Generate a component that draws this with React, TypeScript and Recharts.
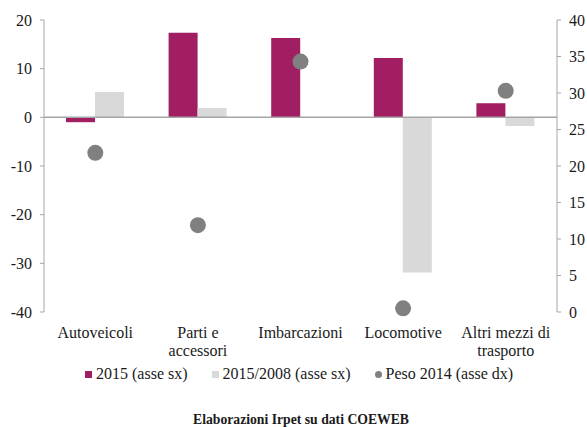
import React from "react";
import {
  ComposedChart,
  Bar,
  Scatter,
  XAxis,
  YAxis,
  ReferenceLine,
  Legend,
} from "recharts";

const categories = ["Autoveicoli", "Parti e accessori", "Imbarcazioni", "Locomotive", "Altri mezzi di trasporto"];
const tickLabelLines = [["Autoveicoli"], ["Parti e", "accessori"], ["Imbarcazioni"], ["Locomotive"], ["Altri mezzi di", "trasporto"]];
const series2015 = [-1.0, 17.4, 16.3, 12.2, 2.9];
const series2015vs2008 = [5.2, 1.9, 0.1, -31.9, -1.8];
const peso2014 = [21.8, 11.9, 34.3, 0.5, 30.3];
const leftTicks = [-40, -30, -20, -10, 0, 10, 20];
const rightTicks = [0, 5, 10, 15, 20, 25, 30, 35, 40];
const legendLabels = ["2015 (asse sx)", "2015/2008 (asse sx)", "Peso 2014 (asse dx)"];

const MAGENTA = "#A11E63";
const LIGHT = "#D9D9D9";
const DOT = "#808080";
const AXIS = "#A6A6A6";
const FONT = "'Liberation Serif', 'Times New Roman', serif";

const data = categories.map((c, i) => ({
  name: c,
  v2015: series2015[i],
  v2008: series2015vs2008[i],
  peso: peso2014[i],
}));

const CategoryTick = (props: any) => {
  const { x, y, index } = props;
  const lines = tickLabelLines[index] || [String(props.payload?.value)];
  return (
    <g>
      {lines.map((l: string, k: number) => (
        <text
          key={k}
          x={x}
          y={y + 25.5 + k * 18.5}
          textAnchor="middle"
          fill="#1a1a1a"
          fontFamily={FONT}
          fontSize={16}
        >
          {l}
        </text>
      ))}
    </g>
  );
};

const LegendContent = () => {
  const markers = [
    <span style={{ display: "inline-block", width: 7, height: 7, background: MAGENTA }} />,
    <span style={{ display: "inline-block", width: 7, height: 7, background: LIGHT }} />,
    <span style={{ display: "inline-block", width: 7, height: 7, borderRadius: "50%", background: DOT }} />,
  ];
  return (
    <div
      style={{
        display: "flex",
        alignItems: "center",
        paddingLeft: 85,
        fontFamily: FONT,
        fontSize: 16,
        color: "#1a1a1a",
        gap: 24,
        lineHeight: "20px",
      }}
    >
      {legendLabels.map((l, i) => (
        <div key={i} style={{ display: "flex", alignItems: "center", gap: 4 }}>
          {markers[i]}
          <span style={{ whiteSpace: "nowrap" }}>{l}</span>
        </div>
      ))}
    </div>
  );
};

export default function App() {
  return (
    <div style={{ position: "absolute", left: 0, top: 0, width: 587, height: 427, background: "#fff" }}>
      <ComposedChart
        width={587}
        height={427}
        data={data}
        margin={{ top: 20, right: 0, left: 0, bottom: 45 }}
        barGap={0}
        barSize={29}
      >
        <XAxis
          dataKey="name"
          xAxisId={0}
          axisLine={false}
          tickLine={false}
          tickSize={0}
          tickMargin={0}
          height={50}
          interval={0}
          tick={<CategoryTick />}
        />
        <YAxis
          yAxisId="left"
          orientation="left"
          domain={[-40, 20]}
          ticks={leftTicks}
          width={44}
          axisLine={{ stroke: AXIS }}
          tickLine={{ stroke: AXIS }}
          tickSize={4}
          tickMargin={8}
          tick={{ fill: "#1a1a1a", fontFamily: FONT, fontSize: 16 }}
          interval={0}
        />
        <YAxis
          yAxisId="right"
          orientation="right"
          domain={[0, 40]}
          ticks={rightTicks}
          width={30}
          axisLine={{ stroke: AXIS }}
          tickLine={{ stroke: AXIS }}
          tickSize={4}
          tickMargin={8}
          tick={{ fill: "#1a1a1a", fontFamily: FONT, fontSize: 16, textAnchor: "start" }}
          interval={0}
        />
        <Bar yAxisId="left" dataKey="v2015" fill={MAGENTA} isAnimationActive={false} />
        <Bar yAxisId="left" dataKey="v2008" fill={LIGHT} isAnimationActive={false} />
        <ReferenceLine yAxisId="left" y={0} stroke={AXIS} strokeWidth={1.5} />
        <Scatter
          yAxisId="right"
          dataKey="peso"
          isAnimationActive={false}
          shape={(p: any) => <circle cx={p.cx} cy={p.cy} r={8} fill={DOT} />}
        />
        <Legend
          content={<LegendContent />}
          wrapperStyle={{ position: "absolute", top: 364, left: 0, width: 587 }}
        />
      </ComposedChart>
      <div
        style={{
          position: "absolute",
          left: 0,
          width: 602,
          top: 411,
          textAlign: "center",
          fontFamily: FONT,
          fontWeight: "bold",
          fontSize: 13.7,
          color: "#1a1a1a",
          lineHeight: "18px",
        }}
      >
        Elaborazioni Irpet su dati COEWEB
      </div>
    </div>
  );
}
